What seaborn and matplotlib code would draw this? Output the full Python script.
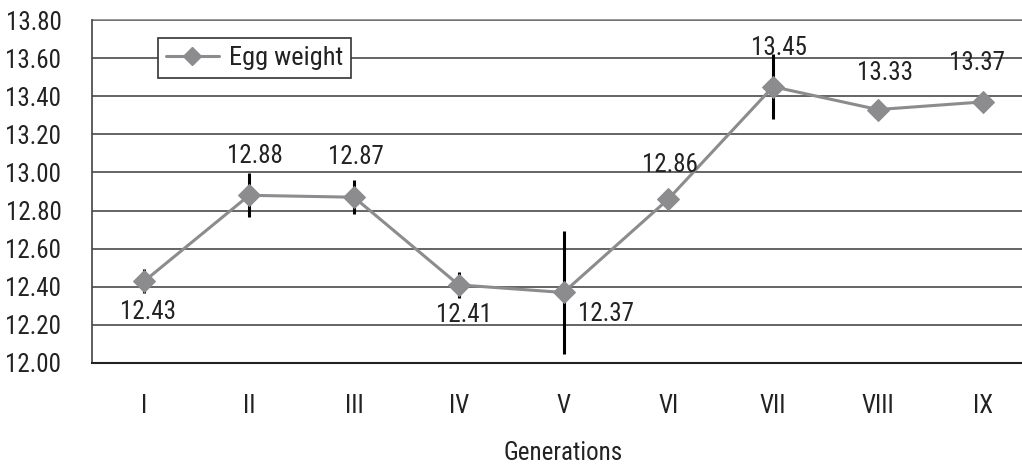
import numpy as np
import matplotlib
matplotlib.use("Agg")
import matplotlib.pyplot as plt
import seaborn as sns
import pandas as pd
from matplotlib.lines import Line2D

generations = ["I", "II", "III", "IV", "V", "VI", "VII", "VIII", "IX"]
egg_weight = [12.43, 12.88, 12.87, 12.41, 12.37, 12.86, 13.45, 13.33, 13.37]
egg_err = [0.065, 0.115, 0.09, 0.068, 0.325, np.nan, 0.17, np.nan, np.nan]
y_ticks = [12.00, 12.20, 12.40, 12.60, 12.80, 13.00, 13.20, 13.40, 13.60, 13.80]

# label offsets in pixels (dx, dy downward positive)
label_offsets = [(4, 31), (6, -39), (2, -40), (5, 30), (42, 22), (2, -34), (6, -39), (7, -37), (-6, -39)]

sns.set_style("white")
plt.rcParams['font.family'] = ['Liberation Sans Narrow', 'Roboto Condensed', 'Archivo Narrow', 'Liberation Sans']

fig = plt.figure(figsize=(10.22, 4.66), dpi=100)
ax = fig.add_axes([92/1022, 1 - 363/466, (1035 - 92)/1022, (363 - 20)/466])

df = pd.DataFrame({"Generation": generations, "Egg weight": egg_weight})
x = np.arange(len(generations))
line_color = "#8c8c8e"
FS = 18

ax.errorbar(x, egg_weight, yerr=egg_err, fmt="none", ecolor="black", elinewidth=2.2, capsize=0, zorder=3)
sns.lineplot(data=df, x=x, y="Egg weight", ax=ax, color=line_color, linewidth=2.2,
             marker="D", markersize=11, markeredgecolor=line_color, zorder=4, legend=False)

ax.set_xlim(-0.5, len(generations) - 0.5)
ax.set_ylim(12.0, 13.8)
ax.set_yticks(y_ticks)
ax.set_yticklabels([f"{v:.2f}" for v in y_ticks], fontsize=FS, color="#222222")
ax.set_xticks(x)
ax.set_xticklabels(generations, fontsize=FS, color="#222222")
ax.set_xticks(np.arange(0.5, len(generations) - 0.5, 1), minor=True)
ax.tick_params(axis="x", which="major", length=0, pad=22)
ax.tick_params(axis="x", which="minor", length=9, width=1, color="#222222", direction="out")
ax.tick_params(axis="y", which="major", length=10, width=1, color="#444444", direction="out", pad=12)

for yv in y_ticks[1:]:
    ax.axhline(yv, color="#3a3a3a", linewidth=1.1, zorder=1)
ax.axhline(13.8, color="#7a7a7a", linewidth=1.1, zorder=1, clip_on=False)

for s in ["top", "right"]:
    ax.spines[s].set_visible(False)
ax.spines["left"].set_color("#444444")
ax.spines["left"].set_linewidth(1.2)
ax.spines["bottom"].set_color("#222222")
ax.spines["bottom"].set_linewidth(1.5)

for xi, v, (dx, dy) in zip(x, egg_weight, label_offsets):
    ax.annotate(f"{v:.2f}", (xi, v), xytext=(dx * 0.72, -dy * 0.72), textcoords="offset points",
                ha="center", va="center", fontsize=FS, color="#222222", zorder=5)

ax.set_xlabel("Generations", fontsize=FS, color="#222222", labelpad=17)
ax.set_ylabel("")

handle = Line2D([], [], color=line_color, linewidth=2.2, marker="D", markersize=9)
leg = ax.legend([handle], ["Egg weight"], loc="upper left", bbox_to_anchor=((158 - 92) / 943, 1 - (38 - 20) / 343),
                fontsize=19, frameon=True, fancybox=False, borderpad=0.3, handlelength=2.0,
                handletextpad=0.4, borderaxespad=0)
leg.get_frame().set_edgecolor("#333333")
leg.get_frame().set_linewidth(1.2)
leg.get_frame().set_alpha(1)
for t in leg.get_texts():
    t.set_color("#222222")

fig.savefig("out.png", dpi=100)
